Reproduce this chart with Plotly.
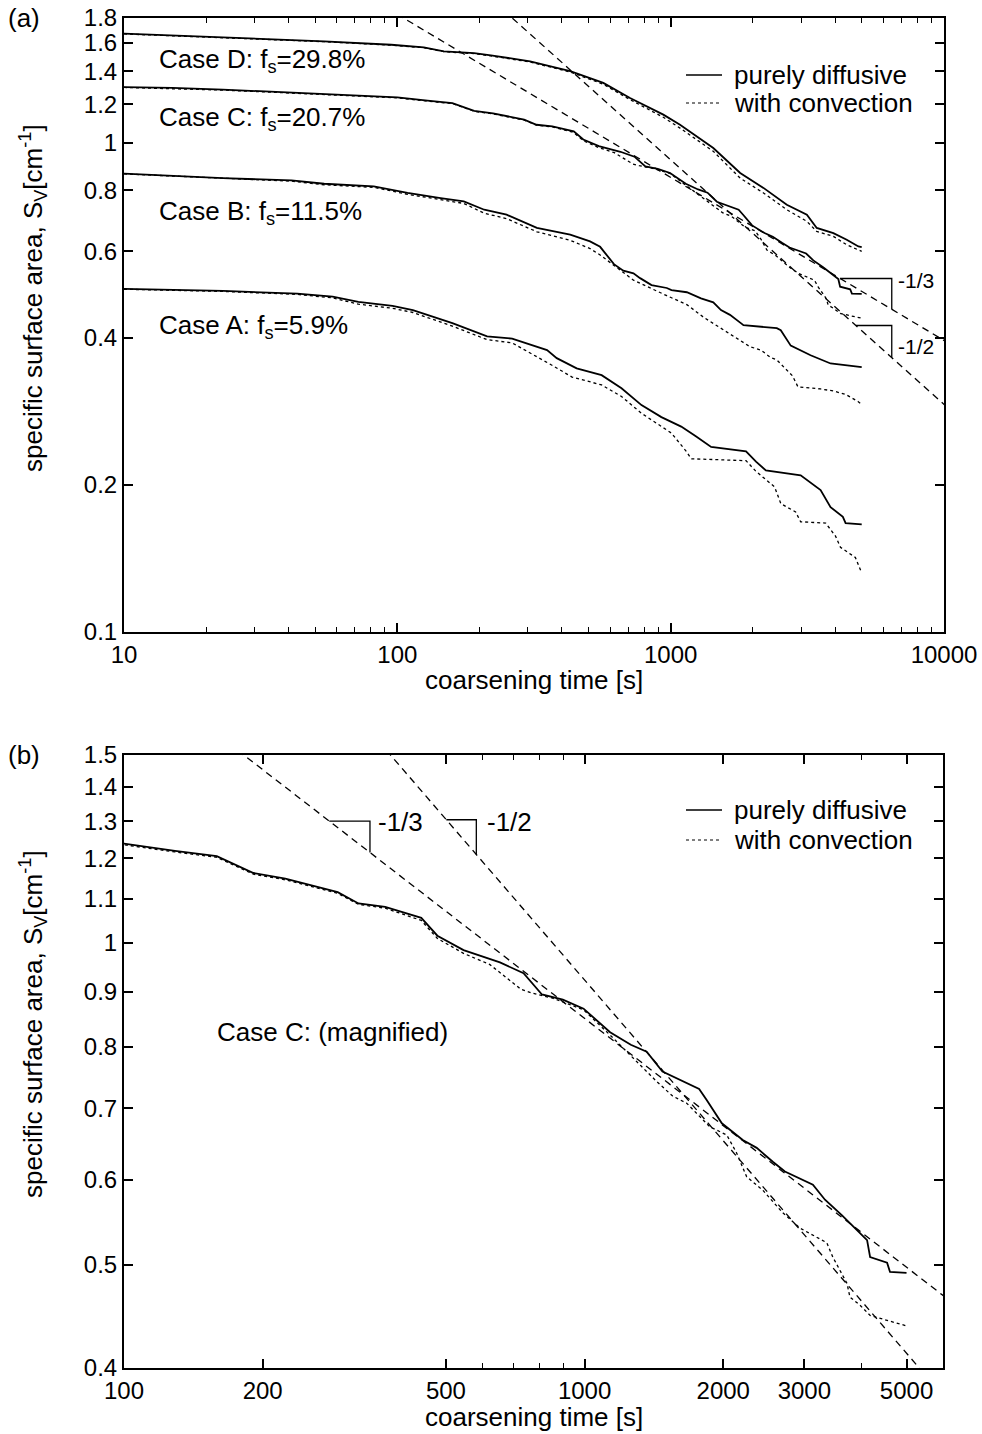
import numpy as np
import plotly.graph_objects as go

# ---------------- data ----------------
caseD_x = [10, 23, 54, 95, 125, 148, 191, 220, 306, 429, 567, 710, 940, 1082, 1432, 1796, 2185, 2660, 3150, 3423, 3938, 4407, 4862, 5000]
caseD_diff = [1.672, 1.644, 1.613, 1.587, 1.568, 1.539, 1.526, 1.510, 1.468, 1.401, 1.326, 1.235, 1.142, 1.089, 0.976, 0.868, 0.809, 0.747, 0.713, 0.670, 0.654, 0.634, 0.614, 0.612]
caseD_conv = [1.670, 1.641, 1.610, 1.584, 1.565, 1.536, 1.522, 1.506, 1.463, 1.396, 1.318, 1.226, 1.128, 1.072, 0.961, 0.847, 0.790, 0.730, 0.691, 0.659, 0.644, 0.619, 0.604, 0.600]

caseC_x = [10, 15, 23, 35, 54, 75, 100, 129, 159, 191, 224, 291, 323, 369, 442, 479, 546, 655, 737, 808, 897, 995, 1136, 1260, 1364, 1476, 1596, 1773, 1841, 1986, 2205, 2364, 2562, 2722, 3131, 3326, 3622, 3866, 4105, 4168, 4537, 4604, 5000]
caseC_diff = [1.300, 1.295, 1.285, 1.272, 1.258, 1.248, 1.239, 1.220, 1.206, 1.163, 1.149, 1.116, 1.089, 1.081, 1.056, 1.016, 0.985, 0.959, 0.937, 0.895, 0.885, 0.868, 0.825, 0.803, 0.791, 0.758, 0.746, 0.730, 0.713, 0.678, 0.654, 0.643, 0.624, 0.611, 0.594, 0.575, 0.556, 0.541, 0.527, 0.508, 0.502, 0.492, 0.491]
caseC_conv_x = [10, 15, 23, 35, 54, 75, 100, 129, 159, 191, 224, 291, 323, 369, 442, 479, 546, 622, 728, 767, 852, 995, 1136, 1327, 1438, 1553, 1666, 1869, 2036, 2138, 2249, 2437, 2693, 2932, 3357, 3459, 3713, 3768, 3963, 4168, 5000]
caseC_conv = [1.298, 1.292, 1.282, 1.269, 1.255, 1.245, 1.236, 1.217, 1.203, 1.160, 1.146, 1.113, 1.087, 1.078, 1.050, 1.010, 0.978, 0.955, 0.905, 0.898, 0.888, 0.866, 0.820, 0.767, 0.741, 0.719, 0.708, 0.673, 0.661, 0.636, 0.604, 0.587, 0.559, 0.541, 0.524, 0.508, 0.480, 0.466, 0.458, 0.448, 0.438]

caseB_x = [10, 23, 41, 54, 82, 109, 144, 175, 208, 251, 324, 429, 507, 552, 620, 671, 731, 773, 851, 968, 1007, 1146, 1291, 1432, 1528, 1648, 1806, 1846, 2445, 2528, 2750, 3250, 3845, 5000]
caseB_diff = [0.865, 0.847, 0.838, 0.825, 0.815, 0.790, 0.771, 0.759, 0.730, 0.713, 0.670, 0.649, 0.629, 0.613, 0.565, 0.548, 0.541, 0.529, 0.512, 0.505, 0.500, 0.495, 0.481, 0.472, 0.455, 0.445, 0.428, 0.424, 0.418, 0.414, 0.385, 0.368, 0.354, 0.348]
caseB_conv_x = [10, 23, 41, 54, 82, 109, 144, 175, 208, 251, 324, 429, 507, 552, 617, 731, 968, 1146, 1319, 1528, 1806, 1952, 2140, 2322, 2445, 2634, 2790, 2923, 3533, 3938, 4365, 4845, 5000]
caseB_conv = [0.864, 0.845, 0.835, 0.821, 0.811, 0.785, 0.765, 0.752, 0.718, 0.700, 0.658, 0.632, 0.608, 0.590, 0.563, 0.524, 0.487, 0.467, 0.440, 0.418, 0.395, 0.383, 0.377, 0.364, 0.360, 0.345, 0.334, 0.317, 0.314, 0.311, 0.306, 0.296, 0.292]

caseA_x = [10, 23, 43, 58, 72, 96, 114, 159, 213, 263, 353, 383, 453, 559, 661, 782, 925, 1093, 1240, 1406, 1887, 2052, 2230, 2990, 3536, 3845, 4266, 4365, 5000]
caseA_diff = [0.503, 0.498, 0.492, 0.485, 0.473, 0.464, 0.455, 0.428, 0.402, 0.398, 0.377, 0.363, 0.346, 0.335, 0.315, 0.291, 0.275, 0.263, 0.251, 0.239, 0.234, 0.223, 0.214, 0.209, 0.195, 0.180, 0.172, 0.167, 0.166]
caseA_conv_x = [10, 23, 43, 58, 72, 96, 114, 159, 213, 263, 368, 436, 559, 661, 782, 851, 1007, 1141, 1189, 1887, 2052, 2400, 2530, 2865, 2990, 3690, 4010, 4180, 4740, 5000]
caseA_conv = [0.502, 0.497, 0.490, 0.482, 0.468, 0.459, 0.450, 0.422, 0.396, 0.390, 0.351, 0.332, 0.320, 0.303, 0.280, 0.271, 0.255, 0.234, 0.226, 0.224, 0.213, 0.198, 0.183, 0.176, 0.168, 0.167, 0.157, 0.149, 0.142, 0.132]

# power-law guide lines  S = C * t^(-n)
slope_exps = [1/3, 1/2]
slope_coefs = [8.5, 29.2]
slope_labels = ["-1/3", "-1/2"]
guide_t = [1, 100000]
# slope triangles (start, end time) for each panel
tri_a = [(4170, 6440), (4760, 6440)]
tri_b = [(279, 342), (501, 582)]

# axes
xa_ticks = [10, 100, 1000, 10000]
xa_minor = [20, 30, 40, 50, 60, 70, 80, 90, 200, 300, 400, 500, 600, 700, 800, 900,
            2000, 3000, 4000, 5000, 6000, 7000, 8000, 9000]
ya_ticks = [0.1, 0.2, 0.4, 0.6, 0.8, 1, 1.2, 1.4, 1.6, 1.8]
ya_labels = ["0.1", "0.2", "0.4", "0.6", "0.8", "1", "1.2", "1.4", "1.6", "1.8"]
xb_ticks = [100, 200, 500, 1000, 2000, 3000, 5000]
xb_minor = [600, 700, 800, 900, 4000]
yb_ticks = [0.4, 0.5, 0.6, 0.7, 0.8, 0.9, 1, 1.1, 1.2, 1.3, 1.4, 1.5]
yb_labels = ["0.4", "0.5", "0.6", "0.7", "0.8", "0.9", "1", "1.1", "1.2", "1.3", "1.4", "1.5"]

# ---------------- figure ----------------
W, H = 982, 1434
FONT = "Liberation Sans, Arial, Helvetica, sans-serif"
TXT = 26

def px(v):
    return v / W

def py(v):
    return 1 - v / H

fig = go.Figure()
SOLID = dict(color="black", width=1.8)
DOT = dict(color="black", width=1.3, dash="dot")
DASH = dict(color="black", width=1.3, dash="7px,5px")

panels = [("x", "y"), ("x2", "y2")]
for xr, yr in panels:
    for (cx, cd, ccx, cc) in [(caseD_x, caseD_diff, caseD_x, caseD_conv),
                              (caseC_x, caseC_diff, caseC_conv_x, caseC_conv),
                              (caseB_x, caseB_diff, caseB_conv_x, caseB_conv),
                              (caseA_x, caseA_diff, caseA_conv_x, caseA_conv)]:
        if xr == "x2" and cx is not caseC_x:
            continue
        fig.add_trace(go.Scatter(x=ccx, y=cc, mode="lines", line=DOT, xaxis=xr, yaxis=yr, showlegend=False))
        fig.add_trace(go.Scatter(x=cx, y=cd, mode="lines", line=SOLID, xaxis=xr, yaxis=yr, showlegend=False))
    for n, c in zip(slope_exps, slope_coefs):
        fig.add_trace(go.Scatter(x=guide_t, y=[c * t ** (-n) for t in guide_t], mode="lines",
                                 line=DASH, xaxis=xr, yaxis=yr, showlegend=False))
    tris = tri_a if xr == "x" else tri_b
    for (t0, t1), n, c in zip(tris, slope_exps, slope_coefs):
        s0 = c * t0 ** (-n)
        s1 = c * t1 ** (-n)
        fig.add_trace(go.Scatter(x=[t0, t1, t1], y=[s0, s0, s1], mode="lines",
                                 line=dict(color="black", width=1.3), xaxis=xr, yaxis=yr, showlegend=False))

axis_common = dict(type="log", showgrid=False, zeroline=False, showline=True, linecolor="black",
                   linewidth=2, mirror="allticks", ticks="inside", ticklen=9, tickwidth=1.5,
                   tickcolor="black", automargin=False,
                   tickfont=dict(family=FONT, size=24, color="black"))
minor_common = dict(ticks="inside", ticklen=5, tickwidth=1.2, tickcolor="black", showgrid=False)

fig.update_layout(
    template="none",
    width=W, height=H, margin=dict(l=0, r=0, t=0, b=0, pad=0), autosize=False,
    paper_bgcolor="white", plot_bgcolor="white", showlegend=False,
    xaxis=dict(axis_common, range=[1, 4], domain=[px(124), px(944)], anchor="y",
               tickmode="array", tickvals=xa_ticks, ticktext=[str(v) for v in xa_ticks],
               minor=dict(minor_common, tickmode="array", tickvals=xa_minor)),
    yaxis=dict(axis_common, range=[np.log10(0.1), np.log10(1.8)], domain=[py(632), py(18)], anchor="x",
               tickmode="array", tickvals=ya_ticks, ticktext=ya_labels),
    xaxis2=dict(axis_common, range=[2, np.log10(6000)], domain=[px(124), px(943)], anchor="y2",
                tickmode="array", tickvals=xb_ticks, ticktext=[str(v) for v in xb_ticks],
                minor=dict(minor_common, tickmode="array", tickvals=xb_minor)),
    yaxis2=dict(axis_common, range=[np.log10(0.4), np.log10(1.5)], domain=[py(1368), py(755)], anchor="x2",
                tickmode="array", tickvals=yb_ticks, ticktext=yb_labels),
)

ann = []
def text(x, y, s, size=TXT, xanchor="left", angle=0):
    ann.append(dict(x=px(x), y=py(y), xref="paper", yref="paper", text=s, showarrow=False,
                    xanchor=xanchor, yanchor="middle", textangle=angle,
                    font=dict(family=FONT, size=size, color="black")))

text(6, 18, "(a)")
text(6, 755, "(b)")
text(157, 60, "Case D: f<sub>s</sub>=29.8%")
text(157, 118, "Case C: f<sub>s</sub>=20.7%")
text(157, 213, "Case B: f<sub>s</sub>=11.5%")
text(157, 326, "Case A: f<sub>s</sub>=5.9%")
text(215, 1032, "Case C: (magnified)")
text(534, 680, "coarsening time [s]", TXT, "center")
text(534, 1417, "coarsening time [s]", TXT, "center")
text(33, 298, "specific surface area, S<sub>V</sub>[cm<sup>-1</sup>]", TXT, "center", -90)
text(33, 1024, "specific surface area, S<sub>V</sub>[cm<sup>-1</sup>]", TXT, "center", -90)
# slope labels
text(896, 280, slope_labels[0], 21)
text(896, 347, slope_labels[1], 21)
text(376, 822, slope_labels[0], TXT)
text(485, 822, slope_labels[1], TXT)
# legends
shapes = []
for y0, y1 in [(75, 103), (810, 840)]:
    shapes.append(dict(type="line", xref="paper", yref="paper", x0=px(686), x1=px(722), y0=py(y0), y1=py(y0),
                       line=dict(color="black", width=1.5)))
    shapes.append(dict(type="line", xref="paper", yref="paper", x0=px(686), x1=px(722), y0=py(y1), y1=py(y1),
                       line=dict(color="black", width=1.2, dash="dot")))
    text(732, y0, "purely diffusive")
    text(732, y1, "with convection")

fig.update_layout(annotations=ann, shapes=shapes)
fig.write_html("out.html", config={"displayModeBar": False},
               post_script="document.body.style.margin='0px';")
